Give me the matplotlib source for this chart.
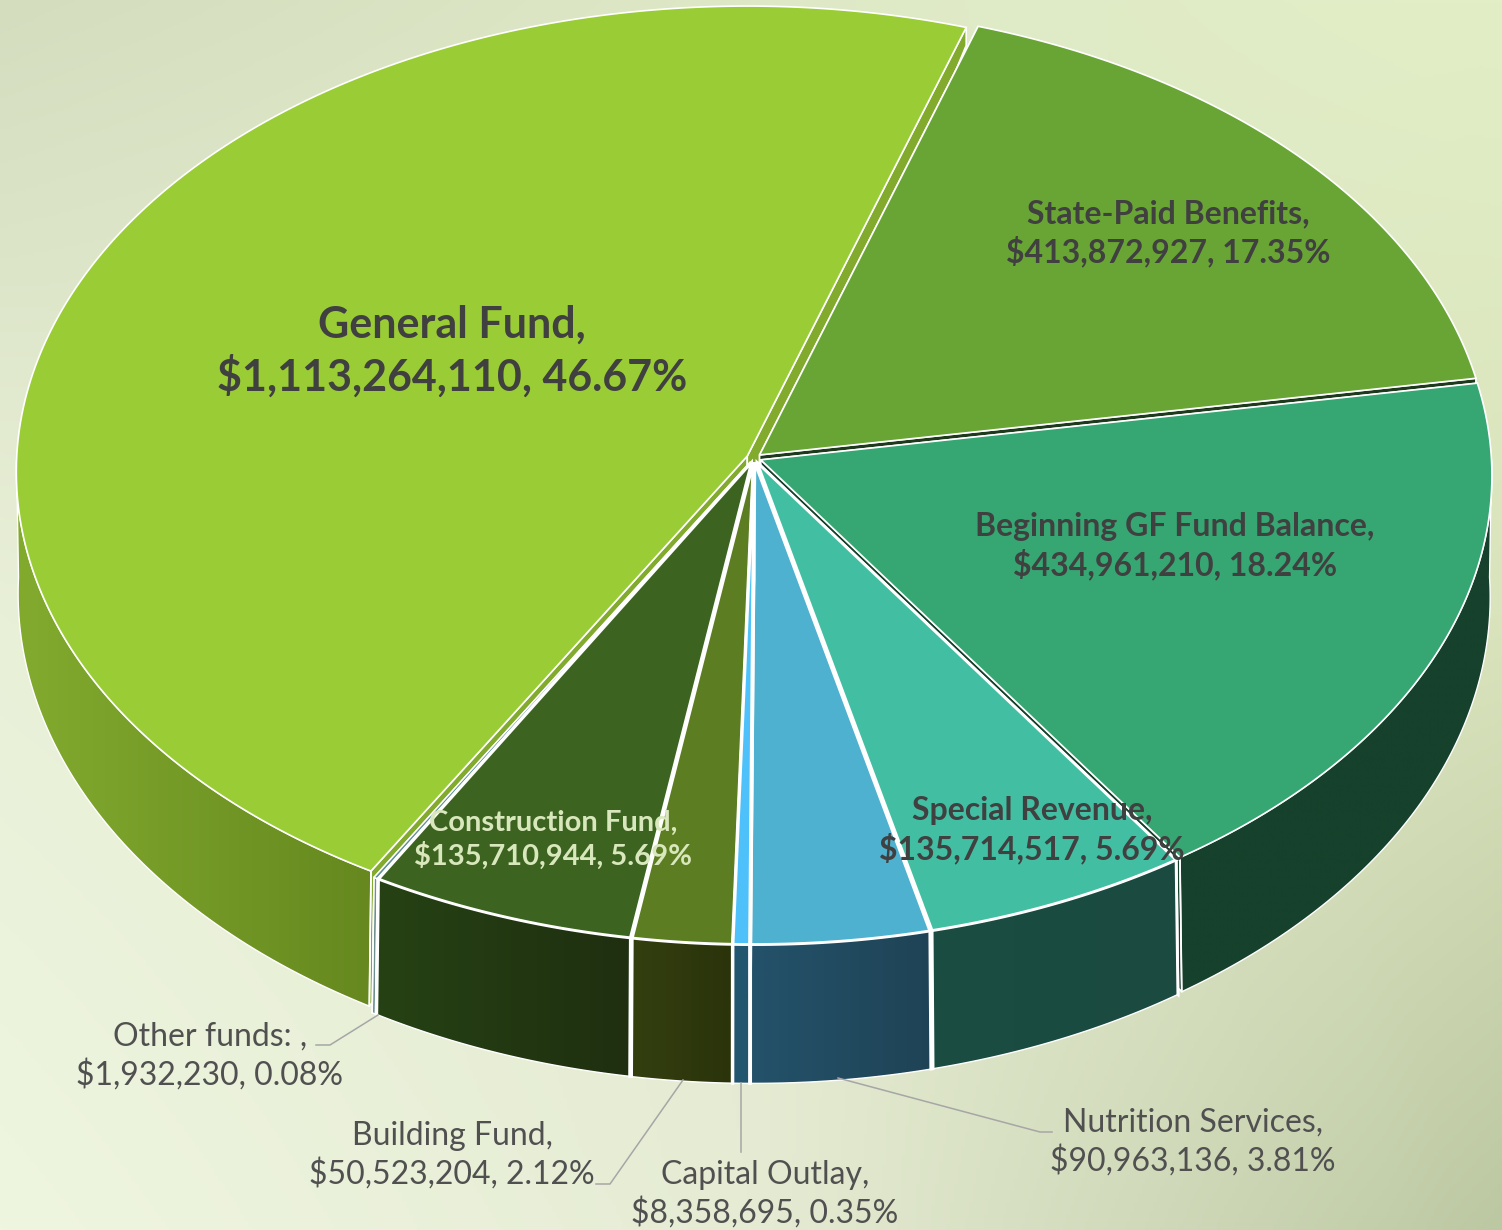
"""
3D exploded pie of fund totals
"""
import matplotlib
matplotlib.use("Agg")
import matplotlib.pyplot as plt
from matplotlib.colors import to_rgb
from matplotlib.patches import Polygon
import numpy as np

plt.rcParams['font.family'] = ['Lato', 'DejaVu Sans']

# clockwise, starting at the top right
funds = ['State-Paid Benefits', 'Beginning GF Fund Balance', 'Special Revenue',
         'Nutrition Services', 'Capital Outlay', 'Building Fund',
         'Construction Fund', 'Other funds: ', 'General Fund']
amounts = [413872927, 434961210, 135714517, 90963136, 8358695, 50523204,
           135710944, 1932230, 1113264110]
shares = [17.35, 18.24, 5.69, 3.81, 0.35, 2.12, 5.69, 0.08, 46.67]

top_colors = ['#69A534', '#36A672', '#42BFA2', '#4DB1CF', '#4FC1FA',
              '#5D7D22', '#3C6420', '#5F8F8F', '#9ACD35']
wall_colors = [('#1E3A1C', '#1E3A1C'), ('#16412C', '#16412C'), ('#1B4D42', '#1A4A40'),
               ('#24526A', '#1F4356'), ('#22566F', '#22566F'), ('#343F10', '#2A330A'),
               ('#264214', '#1F2F10'), ('#6F9090', '#6F9090'), ('#82AB2E', '#66881F')]
edge_widths = [1.2, 1.2, 2.1, 2.1, 2.1, 2.1, 2.1, 1.1, 1.2]

# back to front
draw_order = [8, 0, 1, 7, 6, 2, 5, 3, 4]

START_ANGLE = 18.0
EXPLODE = 0.010
CENTER_X = 754
TOP = dict(a=738, b=470, k=0.034, cy=458)
BOTTOM = dict(a=736, b=487, k=0.0421, cy=575)

# background colours on a 3x3 grid
bg_grid = [['#D4DDBE', '#DEE8C6', '#E2EFC6'],
           ['#E9F0D8', '#E4EBCF', '#D9E3BC'],
           ['#EFF6E0', '#E6ECD4', '#BCC8A2']]


def project(x, y, plane):
    denom = 1 + plane['k'] * y
    return np.column_stack((CENTER_X + plane['a'] * x / denom,
                            plane['cy'] - plane['b'] * y / denom))


def slice_outline(t0, t1, plane):
    """Apex and rim of one slice on a plane, in figure pixels."""
    mid = np.radians((t0 + t1) / 2)
    ox, oy = EXPLODE * np.sin(mid), EXPLODE * np.cos(mid)
    t = np.radians(np.linspace(t0, t1, max(int(t1 - t0) * 2, 2) + 1))
    rim = project(ox + (1 - EXPLODE) * np.sin(t), oy + (1 - EXPLODE) * np.cos(t), plane)
    apex = project(np.array([ox]), np.array([oy]), plane)
    return apex, rim


def gradient_wall(ax, pts, c0, c1, z):
    patch = Polygon(pts, closed=True, facecolor='none', edgecolor='white', lw=1.0, zorder=z + 0.1)
    ax.add_patch(patch)
    grad = np.linspace(0, 1, 128)[None, :, None]
    img = (1 - grad) * np.array(to_rgb(c0)) + grad * np.array(to_rgb(c1))
    im = ax.imshow(img, extent=(pts[:, 0].min(), pts[:, 0].max(), pts[:, 1].max(), pts[:, 1].min()),
                   aspect='auto', interpolation='bilinear', zorder=z)
    im.set_clip_path(patch)


def background():
    grid = np.array([[to_rgb(c) for c in row] for row in bg_grid])
    u = np.linspace(0, 2, 400)
    cols = np.stack([[np.interp(u, [0, 1, 2], grid[:, j, c]) for c in range(3)] for j in range(3)])
    return np.stack([[np.interp(u, [0, 1, 2], cols[:, c, r]) for c in range(3)]
                     for r in range(400)]).transpose(0, 2, 1)


fig = plt.figure(figsize=(15.02, 12.3), dpi=100)
ax = fig.add_axes([0, 0, 1, 1])

ax.imshow(background(), extent=(0, 1502, 1230, 0), aspect='auto', zorder=0)

edges = START_ANGLE + 3.6 * np.concatenate(([0], np.cumsum(shares)))
z = 1
for i in draw_order:
    t0, t1 = edges[i], edges[i + 1]
    apex_t, rim_t = slice_outline(t0, t1, TOP)
    apex_b, rim_b = slice_outline(t0, t1, BOTTOM)
    c0, c1 = wall_colors[i]
    lw = edge_widths[i]
    front = rim_t[:, 1] > TOP['cy']

    # cut faces; at the back only a short notch is left under the rim
    for k in (0, -1):
        low = rim_b[k] if front[k] else rim_t[k] + np.array([0, 18])
        ax.add_patch(Polygon(np.vstack((apex_t, rim_t[k], low, apex_b)), closed=True, facecolor=c0,
                             edgecolor='white', lw=lw, zorder=z))
    # outer wall, only the part facing the viewer
    if front.sum() >= 2:
        gradient_wall(ax, np.vstack((rim_t[front], rim_b[front][::-1])), c0, c1, z + 1)
    for k in (0, -1):
        if front[k]:
            ax.plot(*np.vstack((rim_t[k], rim_b[k])).T, color='white', lw=lw, zorder=z + 2)
    # top face
    ax.add_patch(Polygon(np.vstack((apex_t, rim_t)), closed=True, facecolor=top_colors[i],
                         edgecolor='white', lw=lw, joinstyle='miter', zorder=z + 3))
    z += 4

# leader lines
leaders = [[(378, 1015), (330, 1045), (316, 1045)],
           [(683, 1080), (610, 1184), (596, 1184)],
           [(741, 1083), (741, 1152)],
           [(838, 1078), (1040, 1132), (1052, 1132)]]
for line in leaders:
    ax.plot(*np.array(line).T, color='#A6A6A6', lw=1.1, zorder=z)

# labels: x, y, size, weight, colour
label_style = {
    'General Fund': (452, 351, 31, 'bold', '#404040'),
    'State-Paid Benefits': (1168, 233, 23, 'bold', '#404040'),
    'Beginning GF Fund Balance': (1175, 546, 23, 'bold', '#404040'),
    'Special Revenue': (1032, 830, 23, 'bold', '#404040'),
    'Construction Fund': (553, 840, 21, 'bold', '#D9E8BC'),
    'Other funds: ': (210, 1056, 23, 'normal', '#505050'),
    'Building Fund': (452, 1155, 23, 'normal', '#505050'),
    'Capital Outlay': (765, 1194, 23, 'normal', '#505050'),
    'Nutrition Services': (1193, 1142, 23, 'normal', '#505050'),
}
for name, amount, share in zip(funds, amounts, shares):
    x, y, size, weight, color = label_style[name]
    ax.text(x, y, f"{name},\n${amount:,}, {share:.2f}%", ha='center', va='center',
            fontsize=size, fontweight=weight, color=color, linespacing=1.27, zorder=z + 1)

ax.set_xlim(0, 1502)
ax.set_ylim(1230, 0)
ax.axis('off')
fig.savefig('out.png', dpi=100)
plt.close(fig)
